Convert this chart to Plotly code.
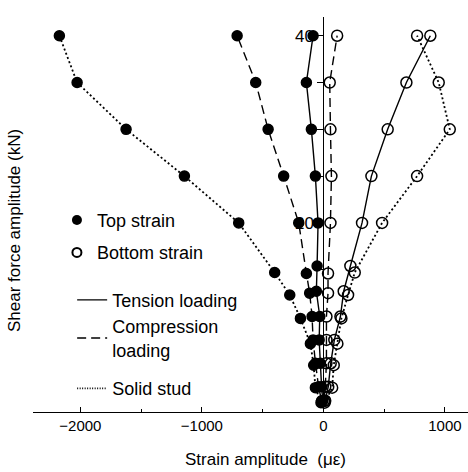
import plotly.graph_objects as go

# ---------------- data ----------------
loads_tension = [1, 2.5, 5, 7.5, 10, 12.7, 15.4, 20, 25, 30, 35, 40]
loads_compression = [1, 2.5, 5, 7.5, 10, 12.5, 14.6, 20, 25, 30, 35, 40]
loads_solid = [0.8, 2.4, 4.8, 7.1, 9.8, 12.3, 14.7, 20, 25, 30, 35, 40]

tension_top = [-5, -15, -25, -35, -30, -58, -52, -44, -66, -99, -140, -85]
tension_bottom = [15, 40, 60, 90, 140, 167, 222, 318, 395, 529, 683, 880]
compression_top = [-15, -40, -65, -85, -93, -113, -140, -203, -327, -455, -557, -710]
compression_bottom = [5, 15, 25, 25, 25, 38, 38, 58, 66, 58, 52, 113]
solid_top = [-20, -66, -80, -107, -189, -277, -401, -697, -1144, -1624, -2027, -2173]
solid_bottom = [10, 72, 85, 115, 148, 203, 258, 483, 771, 1040, 949, 771]

x_range = [-2390, 1190]
y_range = [-0.2, 42]
x_major = [-2000, -1000, 0, 1000]
x_major_text = ["\u22122000", "\u22121000", "0", "1000"]
y_ticks = [5, 10, 15, 20, 25, 30, 35, 40]
y_tick_text = ["", "", "", "20", "", "", "", "40"]

FONT = "Liberation Sans, Arial, Helvetica, sans-serif"
DASH = {"solid": "solid", "dash": "9px,5px", "dot": "2px,2.5px"}

fig = go.Figure()

series = [
    (loads_tension, tension_top, "solid", True),
    (loads_tension, tension_bottom, "solid", False),
    (loads_compression, compression_top, "dash", True),
    (loads_compression, compression_bottom, "dash", False),
    (loads_solid, solid_top, "dot", True),
    (loads_solid, solid_bottom, "dot", False),
]
for ys, xs, dash, filled in series:
    fig.add_trace(go.Scatter(
        x=xs, y=ys, mode="lines+markers", showlegend=False,
        line=dict(color="black", width=1.4 if dash != "dot" else 1.8, dash=DASH[dash]),
        marker=dict(symbol="circle" if filled else "circle-open", size=10 if filled else 11,
                    color="black", line=dict(color="black", width=1.5)),
    ))

# legend entries
fig.add_trace(go.Scatter(x=[None], y=[None], mode="markers", name="Top strain",
                         marker=dict(symbol="circle", size=10, color="black"),
                         legend="legend", legendgroup="a"))
fig.add_trace(go.Scatter(x=[None], y=[None], mode="markers", name="Bottom strain",
                         marker=dict(symbol="circle-open", size=9, color="black", line=dict(width=2)),
                         legend="legend", legendgroup="b"))
fig.add_trace(go.Scatter(x=[None], y=[None], mode="lines", name="Tension loading",
                         line=dict(color="black", width=1.4), legend="legend2"))
fig.add_trace(go.Scatter(x=[None], y=[None], mode="lines", name="Compression<br>loading",
                         line=dict(color="black", width=1.4, dash=DASH["dash"]), legend="legend2"))
fig.add_trace(go.Scatter(x=[None], y=[None], mode="lines", name="Solid stud",
                         line=dict(color="black", width=1.6, dash="1px,1.5px"), legend="legend3"))

y_pos = (0 - x_range[0]) / (x_range[1] - x_range[0])

leg_common = dict(bgcolor="rgba(0,0,0,0)", font=dict(family=FONT, size=18, color="black"),
                  xanchor="left", yanchor="top", borderwidth=0)

fig.update_layout(
    width=468, height=472,
    margin=dict(l=33, r=0, t=17, b=60),
    paper_bgcolor="white", plot_bgcolor="white",
    font=dict(family=FONT, color="black"),
    xaxis=dict(range=x_range, showgrid=False, zeroline=False, showline=True,
               linecolor="black", linewidth=1.3, ticks="inside", ticklen=5, tickwidth=1.2,
               tickcolor="black", tickvals=x_major, ticktext=x_major_text,
               tickfont=dict(family=FONT, size=15, color="black"),
               minor=dict(dtick=500, tick0=0, ticks="inside", ticklen=3, tickcolor="black", tickwidth=1)),
    yaxis=dict(range=y_range, showgrid=False, zeroline=False, showline=True,
               linecolor="black", linewidth=1.3, anchor="free", position=y_pos,
               ticks="outside", ticklen=6, tickwidth=1.2, tickcolor="black",
               tickvals=y_ticks, ticktext=y_tick_text,
               tickfont=dict(family=FONT, size=17, color="black")),
    legend=dict(x=0.055, y=0.532, tracegroupgap=6, **leg_common),
    legend2=dict(x=0.09, y=0.33, **leg_common),
    legend3=dict(x=0.09, y=0.106, **leg_common),
    annotations=[
        dict(text="Strain amplitude  (\u03bc\u03b5)", xref="paper", yref="paper",
             x=0.535, y=-0.119, xanchor="center", yanchor="middle", showarrow=False,
             font=dict(family=FONT, size=17, color="black")),
        dict(text="Shear force amplitude (kN)", xref="paper", yref="paper",
             x=-0.042, y=0.46, xanchor="center", yanchor="middle", textangle=-90,
             showarrow=False, font=dict(family=FONT, size=17, color="black")),
    ],
)

fig.write_html("out.html")
